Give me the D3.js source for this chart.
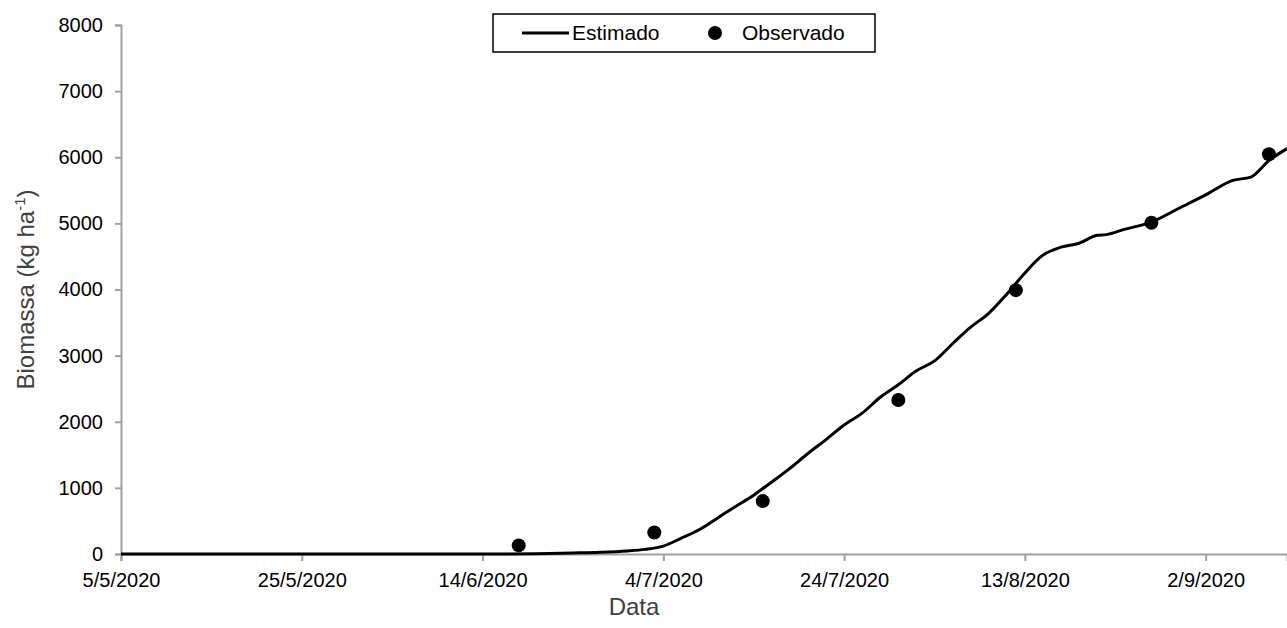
<!DOCTYPE html>
<html>
<head>
<meta charset="utf-8">
<script src="https://cdn.jsdelivr.net/npm/d3@7"></script>
<style>
	html, body { margin: 0; padding: 0; background: #fff; }
	svg { display: block; font-family: "Liberation Sans", Arial, sans-serif; }
</style>
</head>
<body>
<div id="chart"></div>
<script>
	// Estimado: simulated daily biomass (kg/ha)
	const estDates = [
		"2020-05-05", "2020-06-14", "2020-06-20", "2020-06-24", "2020-06-27", "2020-06-30",
		"2020-07-02", "2020-07-04", "2020-07-06", "2020-07-08", "2020-07-10", "2020-07-12",
		"2020-07-14", "2020-07-16", "2020-07-18", "2020-07-20", "2020-07-22", "2020-07-24",
		"2020-07-26", "2020-07-28", "2020-07-30", "2020-08-01", "2020-08-03", "2020-08-05",
		"2020-08-07", "2020-08-09", "2020-08-11", "2020-08-13", "2020-08-15", "2020-08-17",
		"2020-08-19", "2020-08-21", "2020-08-22", "2020-08-24", "2020-08-27", "2020-08-30",
		"2020-09-02", "2020-09-05", "2020-09-07", "2020-09-09", "2020-09-11"
	];
	const estValues = [
		0, 0, 5, 15, 25, 45,
		70, 120, 240, 370, 545, 720,
		890, 1090, 1295, 1520, 1730, 1950,
		2130, 2370, 2560, 2770, 2920, 3180,
		3430, 3640, 3930, 4250, 4520, 4640,
		4700, 4820, 4830, 4910, 5020, 5225,
		5430, 5650, 5700, 5950, 6130
	];

	// Observado: field samples
	const obsDates = ["2020-06-18", "2020-07-03", "2020-07-15", "2020-07-30", "2020-08-12", "2020-08-27", "2020-09-09"];
	const obsValues = [130, 325, 800, 2330, 3990, 5010, 6045];

	// Axis ticks
	const xTickDates = ["2020-05-05", "2020-05-25", "2020-06-14", "2020-07-04", "2020-07-24", "2020-08-13", "2020-09-02"];
	const yTicks = [0, 1000, 2000, 3000, 4000, 5000, 6000, 7000, 8000];
	const xDomain = ["2020-05-05", "2020-09-11"];

	const width = 1287;
	const height = 628;
	const margin = { top: 25, right: 0, bottom: 74, left: 121 };

	const AXIS = "#a0a0a0";
	const TITLE = "#404040";

	const parse = d3.utcParse("%Y-%m-%d");
	const fmtDate = d => `${d.getUTCDate()}/${d.getUTCMonth() + 1}/${d.getUTCFullYear()}`;

	const est = estDates.map((d, i) => ({ date: parse(d), value: estValues[i] }));
	const obs = obsDates.map((d, i) => ({ date: parse(d), value: obsValues[i] }));

	const svg = d3.select("#chart")
		.append("svg")
		.attr("width", width)
		.attr("height", height);

	const x = d3.scaleUtc()
		.domain(xDomain.map(parse))
		.range([margin.left, width - margin.right]);
	const y = d3.scaleLinear()
		.domain([0, 8000])
		.range([height - margin.bottom, margin.top]);

	// Y axis
	const yAxisG = svg.append("g")
		.attr("transform", `translate(${margin.left},0)`)
		.call(d3.axisLeft(y).tickValues(yTicks).tickSize(6).tickPadding(12).tickFormat(d3.format("d")));
	yAxisG.select(".domain").attr("stroke", AXIS).attr("stroke-width", 2);
	yAxisG.selectAll(".tick line").attr("stroke", AXIS).attr("stroke-width", 2);
	yAxisG.selectAll(".tick text")
		.style("font-size", "20px")
		.attr("fill", "#000");

	// X axis
	const xAxisG = svg.append("g")
		.attr("transform", `translate(0,${height - margin.bottom})`)
		.call(d3.axisBottom(x).tickValues(xTickDates.map(parse)).tickSize(7).tickPadding(12).tickFormat(fmtDate));
	xAxisG.select(".domain").attr("stroke", AXIS).attr("stroke-width", 2);
	xAxisG.selectAll(".tick line").attr("stroke", AXIS).attr("stroke-width", 2);
	xAxisG.selectAll(".tick text")
		.style("font-size", "20px")
		.attr("fill", "#000");

	// Axis titles
	svg.append("text")
		.attr("x", (margin.left + width) / 2 - 70)
		.attr("y", height - 13)
		.attr("text-anchor", "middle")
		.style("font-size", "24px")
		.attr("fill", TITLE)
		.text("Data");

	const yTitle = svg.append("text")
		.attr("transform", `translate(34,${(margin.top + height - margin.bottom) / 2}) rotate(-90)`)
		.attr("text-anchor", "middle")
		.style("font-size", "24px")
		.attr("fill", TITLE);
	yTitle.append("tspan").text("Biomassa (kg ha");
	yTitle.append("tspan").attr("dy", -9).style("font-size", "15px").text("-1");
	yTitle.append("tspan").attr("dy", 9).text(")");

	// Estimated line
	const line = d3.line()
		.x(d => x(d.date))
		.y(d => y(d.value))
		.curve(d3.curveMonotoneX);

	svg.append("path")
		.datum(est)
		.attr("fill", "none")
		.attr("stroke", "#000")
		.attr("stroke-width", 3)
		.attr("stroke-linejoin", "round")
		.attr("d", line);

	// Observed points
	svg.append("g")
		.selectAll("circle")
		.data(obs)
		.join("circle")
		.attr("cx", d => x(d.date))
		.attr("cy", d => y(d.value))
		.attr("r", 7)
		.attr("fill", "#000");

	// Legend
	const legend = svg.append("g").attr("transform", "translate(493,14)");
	legend.append("rect")
		.attr("width", 382)
		.attr("height", 38)
		.attr("fill", "#fff")
		.attr("stroke", "#000")
		.attr("stroke-width", 1.5);
	legend.append("line")
		.attr("x1", 29).attr("x2", 76)
		.attr("y1", 19).attr("y2", 19)
		.attr("stroke", "#000")
		.attr("stroke-width", 3);
	legend.append("text")
		.attr("x", 79).attr("y", 26)
		.style("font-size", "21px")
		.attr("fill", "#000")
		.text("Estimado");
	legend.append("circle")
		.attr("cx", 222).attr("cy", 19)
		.attr("r", 7)
		.attr("fill", "#000");
	legend.append("text")
		.attr("x", 249).attr("y", 26)
		.style("font-size", "21px")
		.attr("fill", "#000")
		.text("Observado");
</script>
</body>
</html>
